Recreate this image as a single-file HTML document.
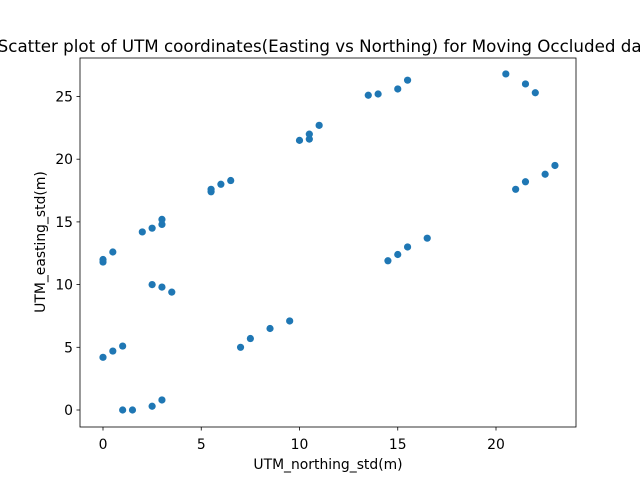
<!DOCTYPE html>
<html><head><meta charset="utf-8"><style>
body{margin:0;background:#fff;width:640px;height:480px;overflow:hidden}
text{font-family:"DejaVu Sans",sans-serif}
</style></head><body>
<svg id="chart" width="640" height="480" xmlns="http://www.w3.org/2000/svg">
<rect width="640" height="480" fill="#fff"/>
<text x="328" y="52" font-size="16.7" text-anchor="middle" fill="#000">Scatter plot of UTM coordinates(Easting vs Northing) for Moving Occluded data</text>
<g id="marks"></g>
<rect x="80" y="58" width="496" height="369" fill="none" stroke="#000" stroke-width="0.8"/>
<g id="xt"></g>
<g id="yt"></g>
<text x="328" y="469" font-size="13.9" text-anchor="middle">UTM_northing_std(m)</text>
<text x="0" y="0" font-size="13.9" text-anchor="middle" transform="translate(45,242) rotate(-90)">UTM_easting_std(m)</text>
</svg>
<script>
const xVals=[0,0,0.5,0,0.5,1,1,1.5,2.5,3,2,2.5,3,3,2.5,3,3.5,5.5,5.5,6,6.5,7,7.5,8.5,9.5,10,10.5,10.5,11,13.5,14,15,15.5,14.5,15,15.5,16.5,20.5,21.5,22,21,21.5,22.5,23];
const yVals=[11.8,12,12.6,4.2,4.7,5.1,0,0,0.3,0.8,14.2,14.5,14.8,15.2,10,9.8,9.4,17.4,17.6,18,18.3,5,5.7,6.5,7.1,21.5,21.6,22,22.7,25.1,25.2,25.6,26.3,11.9,12.4,13,13.7,26.8,26,25.3,17.6,18.2,18.8,19.5];
const xTicks=[0,5,10,15,20];
const yTicks=[0,5,10,15,20,25];
const NS="http://www.w3.org/2000/svg";
function X(v){return 103+v*19.65;}
function Y(v){return 410-v*12.54;}
const m=document.getElementById('marks');
xVals.forEach((x,i)=>{const c=document.createElementNS(NS,'circle');


c.setAttribute('cx',X(x));c.setAttribute('cy',Y(yVals[i]));c.setAttribute('r',3.6);c.setAttribute('fill','#1f77b4');m.appendChild(c);});
const xt=document.getElementById('xt');
xTicks.forEach(t=>{const l=document.createElementNS(NS,'line');


l.setAttribute('x1',X(t));l.setAttribute('x2',X(t));l.setAttribute('y1',427);l.setAttribute('y2',430.5);l.setAttribute('stroke','#000');l.setAttribute('stroke-width','0.8');xt.appendChild(l);
const s=document.createElementNS(NS,'text');


s.setAttribute('x',X(t));s.setAttribute('y',449);s.setAttribute('font-size','13.9');s.setAttribute('text-anchor','middle');s.textContent=t;xt.appendChild(s);});
const yt=document.getElementById('yt');
yTicks.forEach(t=>{const l=document.createElementNS(NS,'line');


l.setAttribute('x1',76.5);l.setAttribute('x2',80);l.setAttribute('y1',Y(t));l.setAttribute('y2',Y(t));l.setAttribute('stroke','#000');l.setAttribute('stroke-width','0.8');yt.appendChild(l);
const s=document.createElementNS(NS,'text');


s.setAttribute('x',73);s.setAttribute('y',Y(t)+5);s.setAttribute('font-size','13.9');s.setAttribute('text-anchor','end');s.textContent=t;yt.appendChild(s);});
</script>
</body></html>
